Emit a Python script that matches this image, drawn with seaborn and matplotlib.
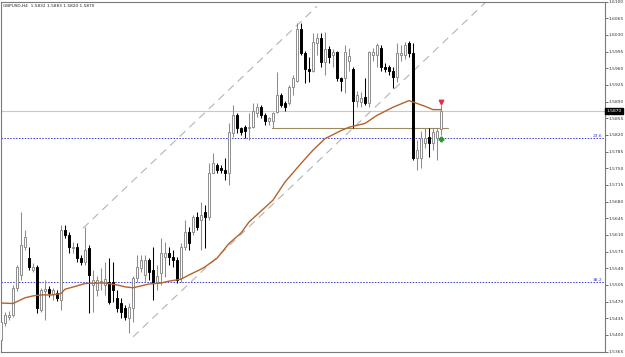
import numpy as np
import pandas as pd
import matplotlib
matplotlib.use("Agg")
import matplotlib.pyplot as plt
import matplotlib.transforms as mtrans
import seaborn as sns

title_text = "GBPUSD,H4  1.5832 1.5883 1.5820 1.5870"

opens = [1.5389, 1.5425, 1.5438, 1.5442, 1.5498, 1.5525, 1.5584, 1.5561, 1.5536, 1.5542,
         1.5452, 1.5492, 1.5496, 1.5486, 1.5488, 1.5473, 1.5620, 1.5609, 1.5582, 1.5584,
         1.5561, 1.5553, 1.5582, 1.5505, 1.5494, 1.5511, 1.5505, 1.5511, 1.5511, 1.5477,
         1.5467, 1.5456, 1.5435, 1.5456, 1.5519, 1.5540, 1.5526, 1.5557, 1.5536, 1.5511,
         1.5530, 1.5563, 1.5572, 1.5563, 1.5557, 1.5519, 1.5584, 1.5616, 1.5616, 1.5647,
         1.5641, 1.5658, 1.5647, 1.5741, 1.5756, 1.5750, 1.5746, 1.5741, 1.5823, 1.5861,
         1.5834, 1.5836, 1.5834, 1.5836, 1.5865, 1.5878, 1.5861, 1.5850, 1.5850, 1.5867,
         1.5903, 1.5886, 1.5886, 1.5920, 1.5934, 1.6043, 1.5991, 1.5959, 1.5955, 1.6012,
         1.6024, 1.5972, 1.6001, 1.5987, 1.5993, 1.5939, 1.5939, 1.5976, 1.5959, 1.5892,
         1.5888, 1.5899, 1.5886, 1.5987, 1.5987, 1.6003, 1.5962, 1.5962, 1.5955, 1.5941,
         1.5987, 1.5987, 1.6012, 1.5991, 1.5771, 1.5771, 1.5802, 1.5815, 1.5802, 1.5813,
         1.5832]
highs = [1.5435, 1.5448, 1.5450, 1.5505, 1.5547, 1.5658, 1.5620, 1.5584, 1.5551, 1.5547,
         1.5498, 1.5515, 1.5503, 1.5498, 1.5494, 1.5630, 1.5630, 1.5616, 1.5595, 1.5593,
         1.5567, 1.5626, 1.5588, 1.5536, 1.5524, 1.5540, 1.5553, 1.5561, 1.5553, 1.5494,
         1.5477, 1.5463, 1.5467, 1.5524, 1.5567, 1.5567, 1.5567, 1.5561, 1.5584, 1.5547,
         1.5603, 1.5595, 1.5584, 1.5578, 1.5563, 1.5593, 1.5641, 1.5626, 1.5651, 1.5658,
         1.5679, 1.5672, 1.5760, 1.5781, 1.5760, 1.5756, 1.5771, 1.5844, 1.5882, 1.5865,
         1.5836, 1.5840, 1.5865, 1.5886, 1.5886, 1.5882, 1.5865, 1.5857, 1.5867, 1.5951,
         1.5907, 1.5892, 1.5924, 1.5945, 1.6054, 1.6054, 1.5997, 1.5983, 1.6033, 1.6033,
         1.6033, 1.6035, 1.6006, 1.6001, 1.5997, 1.5941, 1.6008, 1.6003, 1.5962, 1.5913,
         1.5909, 1.5939, 1.5997, 1.6003, 1.6012, 1.6008, 1.5970, 1.5966, 1.5962, 1.6012,
         1.6008, 1.6014, 1.6018, 1.6012, 1.5809, 1.5829, 1.5834, 1.5834, 1.5834, 1.5834,
         1.5883]
lows = [1.5383, 1.5419, 1.5431, 1.5438, 1.5492, 1.5515, 1.5578, 1.5536, 1.5532, 1.5446,
        1.5448, 1.5431, 1.5480, 1.5473, 1.5471, 1.5452, 1.5603, 1.5572, 1.5572, 1.5553,
        1.5547, 1.5547, 1.5446, 1.5448, 1.5482, 1.5494, 1.5484, 1.5465, 1.5469, 1.5448,
        1.5435, 1.5431, 1.5404, 1.5427, 1.5511, 1.5532, 1.5511, 1.5515, 1.5473, 1.5494,
        1.5505, 1.5521, 1.5547, 1.5542, 1.5509, 1.5511, 1.5578, 1.5578, 1.5609, 1.5620,
        1.5578, 1.5582, 1.5641, 1.5739, 1.5741, 1.5739, 1.5725, 1.5714, 1.5815, 1.5823,
        1.5819, 1.5813, 1.5809, 1.5834, 1.5857, 1.5855, 1.5840, 1.5840, 1.5834, 1.5865,
        1.5878, 1.5871, 1.5882, 1.5903, 1.5930, 1.5987, 1.5928, 1.5930, 1.5951, 1.5987,
        1.5962, 1.5945, 1.5970, 1.5962, 1.5934, 1.5913, 1.5907, 1.5955, 1.5834, 1.5878,
        1.5878, 1.5882, 1.5878, 1.5976, 1.5962, 1.5955, 1.5951, 1.5945, 1.5918, 1.5930,
        1.5976, 1.5980, 1.5983, 1.5767, 1.5746, 1.5750, 1.5792, 1.5773, 1.5788, 1.5767,
        1.5820]
closes = [1.5427, 1.5442, 1.5442, 1.5498, 1.5542, 1.5588, 1.5605, 1.5542, 1.5542, 1.5456,
          1.5494, 1.5496, 1.5488, 1.5494, 1.5477, 1.5620, 1.5609, 1.5584, 1.5584, 1.5561,
          1.5553, 1.5578, 1.5526, 1.5515, 1.5515, 1.5513, 1.5517, 1.5469, 1.5494, 1.5456,
          1.5448, 1.5438, 1.5459, 1.5519, 1.5542, 1.5557, 1.5557, 1.5532, 1.5509, 1.5524,
          1.5572, 1.5572, 1.5563, 1.5557, 1.5515, 1.5584, 1.5616, 1.5593, 1.5647, 1.5626,
          1.5651, 1.5647, 1.5741, 1.5762, 1.5746, 1.5746, 1.5741, 1.5825, 1.5861, 1.5834,
          1.5825, 1.5829, 1.5836, 1.5871, 1.5878, 1.5861, 1.5850, 1.5855, 1.5865, 1.5903,
          1.5882, 1.5878, 1.5920, 1.5939, 1.6043, 1.5991, 1.5959, 1.5955, 1.6014, 1.6024,
          1.5972, 1.6001, 1.5983, 1.5993, 1.5939, 1.5934, 1.5993, 1.5985, 1.5892, 1.5903,
          1.5897, 1.5886, 1.5993, 1.5993, 1.6008, 1.5962, 1.5959, 1.5955, 1.5941, 1.5991,
          1.5991, 1.6008, 1.5991, 1.5771, 1.5788, 1.5813, 1.5813, 1.5802, 1.5827, 1.5829,
          1.5870]

ma_index = [0, 3, 4, 6, 8, 10, 13, 15, 16, 19, 21, 24, 26, 29, 31, 33, 35, 37, 40, 42,
            45, 47, 50, 51, 54, 57, 60, 62, 65, 68, 71, 75, 78, 81, 85, 87, 91, 94, 98,
            102, 103, 106, 108, 110]
ma_value = [1.5467, 1.5466, 1.5470, 1.5478, 1.5482, 1.5484, 1.5484, 1.5487, 1.5496, 1.5503,
            1.5508, 1.5509, 1.5509, 1.5505, 1.5501, 1.5499, 1.5503, 1.5507, 1.5509, 1.5513,
            1.5517, 1.5526, 1.5538, 1.5543, 1.5561, 1.5592, 1.5614, 1.5637, 1.5660, 1.5683,
            1.5721, 1.5760, 1.5788, 1.5812, 1.5829, 1.5836, 1.5844, 1.5861, 1.5878,
            1.5892, 1.5889, 1.5880, 1.5873, 1.5873]

price_ticks = [1.6100, 1.6065, 1.6030, 1.5995, 1.5960, 1.5925, 1.5890, 1.5855, 1.5820,
               1.5785, 1.5750, 1.5715, 1.5680, 1.5645, 1.5610, 1.5575, 1.5540, 1.5505,
               1.5470, 1.5435, 1.5400, 1.5365]
bid_price = 1.5870
fib_levels = [1.5813, 1.5511]
fib_labels = ["23.6", "38.2"]
support_price = 1.5834
support_start = 67.75
support_end = 111.7
upper_channel_x = [20.5, 79.0]
upper_channel_y = [1.5624, 1.6090]
lower_channel_x = [33.0, 121.0]
lower_channel_y = [1.5396, 1.6097]
sell_arrow = (110, 1.5890)
buy_arrow = (110, 1.5811)

sns.set_style("white")

W, H = 625, 357
fig = plt.figure(figsize=(W / 100, H / 100), dpi=100)
ax = fig.add_axes([1 / W, (H - 352) / H, 604 / W, 350.5 / H])

df = pd.DataFrame({"o": opens, "h": highs, "l": lows, "c": closes})
df["i"] = np.arange(len(df))
df["bull"] = df["c"] >= df["o"]

gray = "#8c8c8c"
blend = mtrans.blended_transform_factory(ax.transAxes, ax.transData)
# reference lines
ax.axhline(bid_price, color="#c8c8c8", lw=0.8, zorder=1)
for lv, lb in zip(fib_levels, fib_labels):
    ax.axhline(lv, color="#3b3bd0", lw=0.7, ls=(0, (1.5, 1.5)), zorder=1)
    ax.text(0.996, lv, lb, transform=blend, ha="right", va="bottom", fontsize=3.2, color="#3b3bd0")
ax.plot([support_start, support_end], [support_price, support_price], color="#9a8a5e", lw=0.8, zorder=1)
ax.plot(upper_channel_x, upper_channel_y, color="#b4b4b4", lw=0.8, ls=(0, (7, 5)), zorder=1)
ax.plot(lower_channel_x, lower_channel_y, color="#b4b4b4", lw=0.8, ls=(0, (7, 5)), zorder=1)

# candles
for _, r in df.iterrows():
    col = gray if r["bull"] else "black"
    ax.vlines(r["i"], r["l"], r["h"], color=col, lw=0.75, zorder=2)
    lo = min(r["o"], r["c"])
    hgt = max(abs(r["c"] - r["o"]), 0.00015)
    ax.bar(r["i"], hgt, bottom=lo, width=0.55, color="white" if r["bull"] else "black",
           edgecolor=col, linewidth=0.7, zorder=3)

# moving average
ma = pd.DataFrame({"i": ma_index, "v": ma_value})
sns.lineplot(data=ma, x="i", y="v", ax=ax, color="#b5622a", lw=1.0, zorder=4)

ax.plot(*sell_arrow, marker="v", color="#e8303a", ms=3.2, zorder=5)
ax.plot(*buy_arrow, marker="P", color="#2a9a2a", ms=3.2, zorder=5)

ax.set_xlim(0, 151)
ax.set_ylim(1.6102 - 0.0002096 * 352, 1.6102 - 0.0002096 * 1.5)
ax.set_xticks([])
ax.yaxis.tick_right()
ax.set_yticks(price_ticks)
ax.set_yticklabels([f"{t:.4f}" for t in price_ticks])
ax.tick_params(axis="y", right=True, length=2.0, width=0.6, color="#555555",
               labelsize=3.2, pad=0.8, labelcolor="#333333")
ax.set_xlabel("")
ax.set_ylabel("")
for s in ax.spines.values():
    s.set_color("#7a7a7a")
    s.set_linewidth(0.8)

ax.text(1.0 + 1.5 / 604, bid_price, f"{bid_price:.4f}", transform=blend,
        ha="left", va="center", fontsize=3.2, color="white",
        bbox=dict(boxstyle="square,pad=0.25", fc="black", ec="black"), zorder=6, clip_on=False)

fig.text(3 / W, 1 - 6 / H, title_text, fontsize=3.1, color="#222222", ha="left", va="center")

fig.savefig("out.png", dpi=100)
